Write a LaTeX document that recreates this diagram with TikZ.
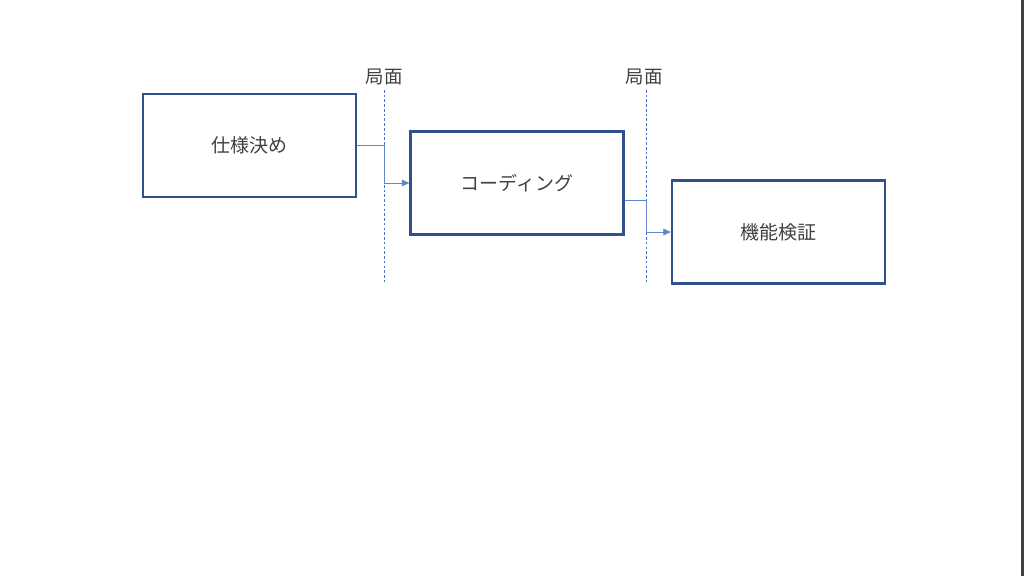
\documentclass[tikz,border=0pt]{standalone}
\usepackage{xcolor}
\usepackage{fontspec}
\usepackage{tikz}
\usetikzlibrary{arrows.meta, positioning}
\newfontfamily\jpfont{Noto Sans CJK JP}
\definecolor{boxcolor}{RGB}{47,82,143}
\definecolor{linkcolor}{RGB}{68,114,196}
\definecolor{textcolor}{RGB}{64,64,64}
\definecolor{edgecolor}{RGB}{64,64,64}

\begin{document}
\begin{tikzpicture}[
    x=0.02cm, y=-0.02cm,
    stage/.style={draw=boxcolor, line width=1.3pt, fill=white, minimum width=4.26cm, minimum height=2.06cm, font=\jpfont\fontsize{10.8}{13}\selectfont, text=textcolor},
    phase/.style={linkcolor, dash pattern=on 1.5pt off 1.2pt, line width=0.45pt},
    phaselabel/.style={font=\jpfont\fontsize{10.5}{13}\selectfont, text=textcolor, inner sep=1pt},
    flow/.style={-{Triangle[length=1.5mm, width=1.3mm]}, linkcolor!85, line width=0.4pt}
]
    \useasboundingbox (0,0) rectangle (1024,576);
    \fill[white] (0,0) rectangle (1024,576);
    \draw[edgecolor, line width=1.2pt] (1022.5,0) -- (1022.5,576);

    % phase boundaries
    \coordinate (s1top) at (384,90);
    \coordinate (s1bot) at (384,283);
    \coordinate (s2top) at (646,90);
    \coordinate (s2bot) at (646,283);
    \draw[phase] (s1top) -- (s1bot);
    \draw[phase] (s2top) -- (s2bot);
    \node[phaselabel] (lab1) at (384,77) {局面};
    \node[phaselabel] (lab2) at (644,77) {局面};

    % stages
    \node[stage] (spec) at (249.5,145.5) {仕様決め};
    \node[stage] (code) at (517,183) {コーディング};
    \node[stage] (test) at (778.5,232) {機能検証};

    \draw[flow] (spec.east) -- (spec.east -| s1top) |- (code.west);
    \draw[flow] ([yshift=-0.34cm]code.east) -- ([yshift=-0.34cm]code.east -| s2top) |- (test.west);
\end{tikzpicture}
\end{document}
